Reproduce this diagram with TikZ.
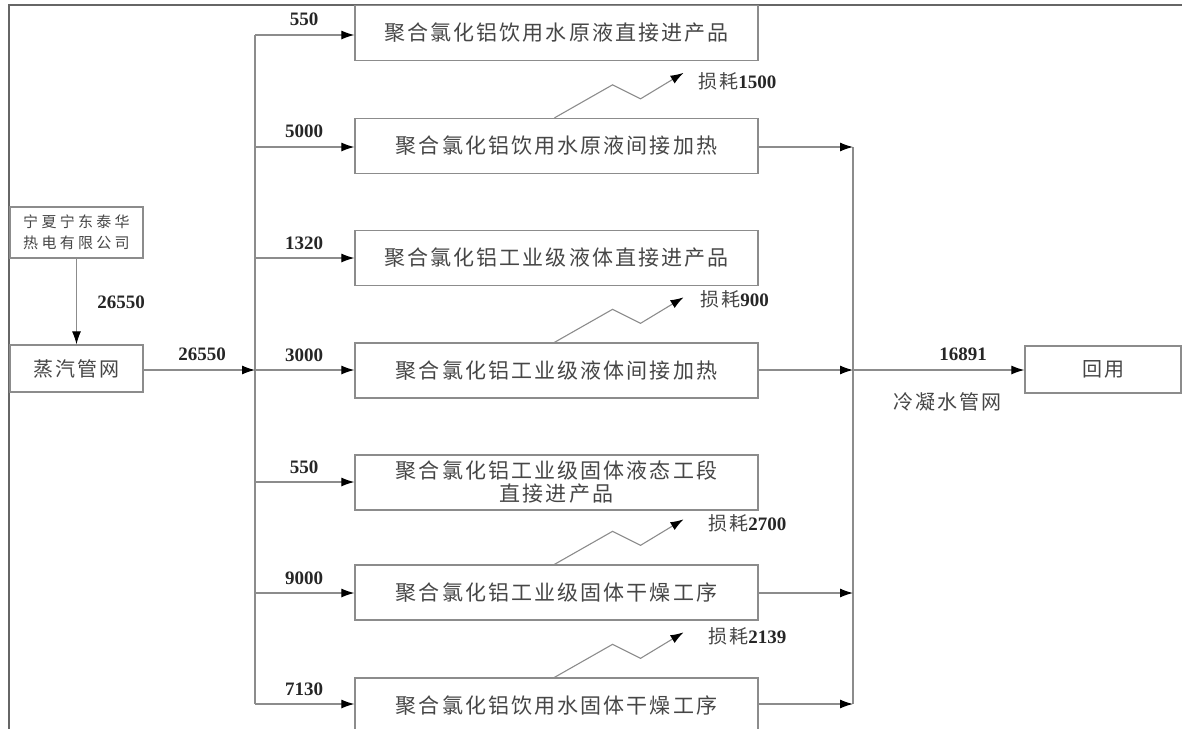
\documentclass[tikz,border=0pt]{standalone}
\usepackage{fontspec}
\setmainfont{Liberation Serif}
\newfontfamily\cjk{Noto Sans CJK SC}[LetterSpace=10]
\newfontfamily\cjksmall{Noto Sans CJK SC}[LetterSpace=22]
\usetikzlibrary{arrows.meta,calc}
\definecolor{linec}{RGB}{140,140,140}
\definecolor{txtc}{RGB}{70,70,70}
\tikzset{
  box/.style={draw=linec, line width=1.3pt, minimum width=403pt, minimum height=55pt, inner sep=0pt, align=center, text=txtc, font=\fontsize{21}{24}\selectfont\cjk},
  sbox/.style={draw=linec, line width=1.3pt, minimum width=133pt, inner sep=0pt, align=center, text=txtc},
  flow/.style={draw=linec, line width=1.1pt, -{Latex[length=13pt,width=9pt]}, arrows={[color=black]}},
  wire/.style={draw=linec, line width=1.1pt},
  num/.style={text=black!85, font=\fontsize{19}{20}\selectfont\bfseries},
  loss/.style={text=black!85, font=\fontsize{19}{20}\selectfont\bfseries, anchor=west},
}
\newcommand{\CJ}[1]{{\mdseries\cjk\color{txtc} #1}}
\begin{document}
\begin{tikzpicture}[x=1pt,y=-1pt]
\useasboundingbox (0,0) rectangle (1182,728);
\clip (0,0) rectangle (1182,728);
% frame
\draw[line width=2.2pt, black!60] (9,729) -- (9,5) -- (1183,5);

% source boxes
\node[sbox, minimum height=51pt, font=\fontsize{15}{21}\selectfont\cjksmall] (co) at (76.5,232.5) {宁夏宁东泰华\\热电有限公司};
\node[sbox, minimum height=47pt, font=\fontsize{20}{22}\selectfont\cjk] (steam) at (76.5,368.5) {蒸汽管网};
\draw[flow] (co) -- (steam);
\node[num] (l0) at (121,302) {26550};

% process boxes
\node[box] (b1) at (556.5,33) {聚合氯化铝饮用水原液直接进产品};
\node[box] (b2) at (556.5,146) {聚合氯化铝饮用水原液间接加热};
\node[box] (b3) at (556.5,258) {聚合氯化铝工业级液体直接进产品};
\node[box] (b4) at (556.5,370.5) {聚合氯化铝工业级液体间接加热};
\node[box, font=\fontsize{21}{23}\selectfont\cjk] (b5) at (556.5,482.5) {聚合氯化铝工业级固体液态工段\\直接进产品};
\node[box] (b6) at (556.5,592.5) {聚合氯化铝工业级固体干燥工序};
\node[box] (b7) at (556.5,705.5) {聚合氯化铝饮用水固体干燥工序};

% distribution bus
\coordinate (s1) at (255,35);
\coordinate (s2) at (255,147);
\coordinate (s3) at (255,258);
\coordinate (s4) at (255,370);
\coordinate (s5) at (255,482);
\coordinate (s6) at (255,593);
\coordinate (s7) at (255,704);
\draw[wire] (s1) -- (s7);
\draw[flow] (steam.east |- s4) -- (s4);
\node[num] (l00) at (202,354) {26550};
\foreach \i in {1,...,7} { \draw[flow] (s\i) -- (b\i.west |- s\i); }
\node[num] (n1) at (304,19) {550};
\node[num] (n2) at (304,131) {5000};
\node[num] (n3) at (304,243) {1320};
\node[num] (n4) at (304,355) {3000};
\node[num] (n5) at (304,467) {550};
\node[num] (n6) at (304,578) {9000};
\node[num] (n7) at (304,689) {7130};

% losses
\foreach \b in {b2,b4,b6,b7} {
  \coordinate (z0) at ([xshift=-2pt]\b.north);
  \coordinate (zt) at ($(z0)+(129,-45)$);
  \draw[flow] (z0) -- ++(58,-33) -- ++(28,14) -- (zt);
}
\node[loss] (L1) at (695,81) {\CJ{损耗}1500};
\node[loss] (L2) at (697,299) {\CJ{损耗}900};
\node[loss] (L3) at (705,523) {\CJ{损耗}2700};
\node[loss] (L4) at (705,636) {\CJ{损耗}2139};

% collector
\coordinate (c2) at (853,147);
\coordinate (c4) at (853,370);
\coordinate (c6) at (853,593);
\coordinate (c7) at (853,704);
\draw[wire] (c2) -- (c7);
\draw[flow] (b2.east |- c2) -- (c2);
\draw[flow] (b4.east |- c4) -- (c4);
\draw[flow] (b6.east |- c6) -- (c6);
\draw[flow] (b7.east |- c7) -- (c7);

\node[sbox, minimum width=156pt, minimum height=47pt, font=\fontsize{20}{22}\selectfont\cjk] (reuse) at (1103,369.5) {回用};
\draw[flow] (c4) -- (reuse.west |- c4);
\node[num] (l16) at (963,354) {16891};
\node[text=txtc, font=\fontsize{20}{22}\selectfont\cjk] (lc) at (947,402) {冷凝水管网};
\end{tikzpicture}
\end{document}
